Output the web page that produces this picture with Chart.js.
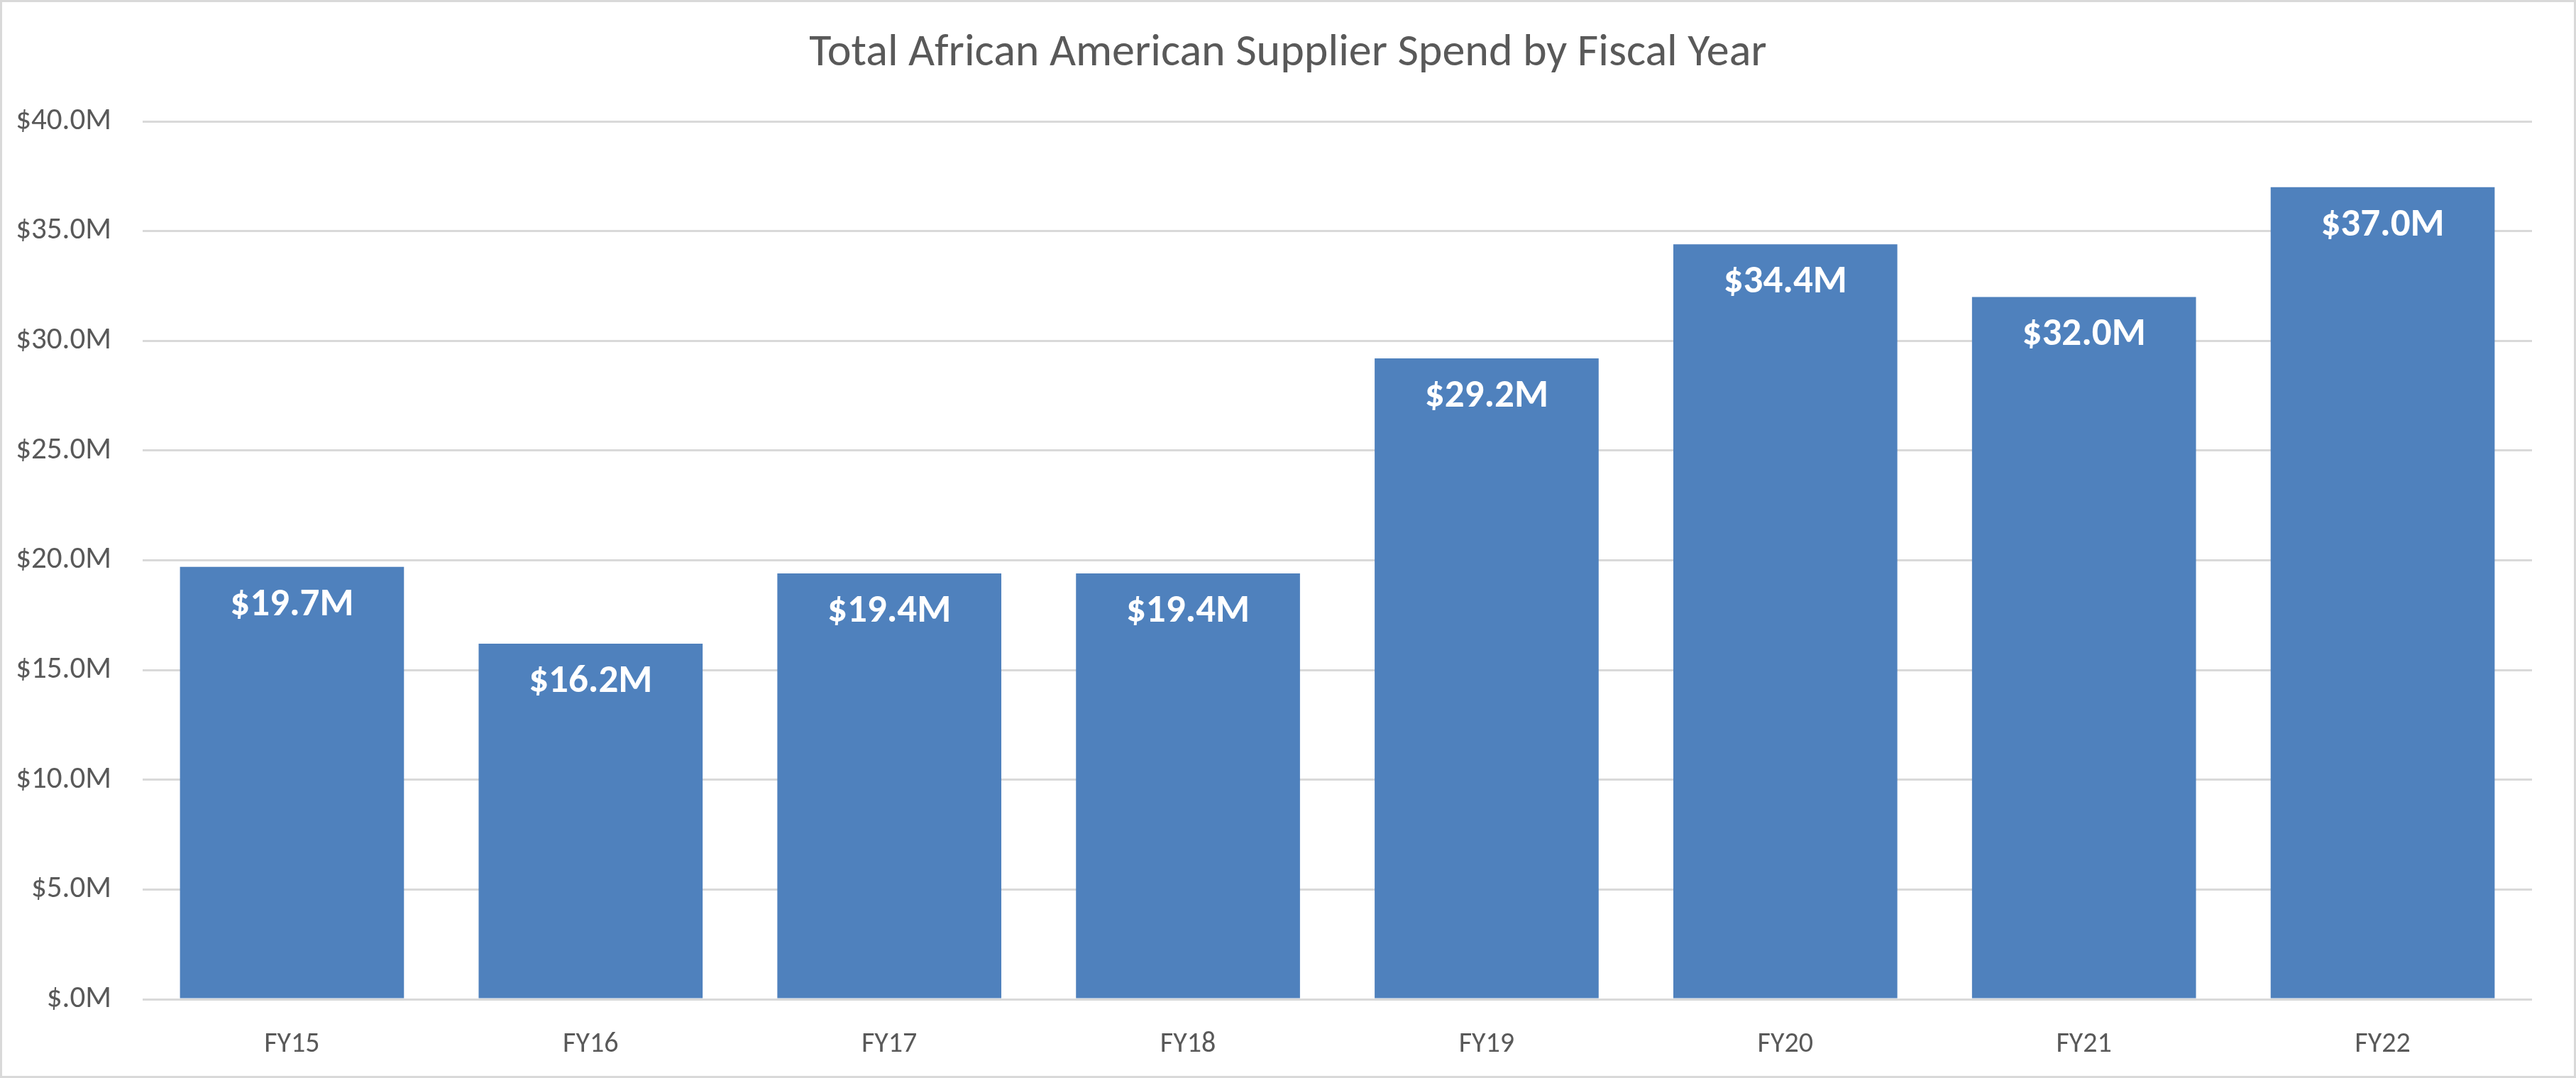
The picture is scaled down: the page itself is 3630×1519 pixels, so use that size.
<!DOCTYPE html>
<html>
<head>
<meta charset="utf-8">
<script src="https://cdn.jsdelivr.net/npm/chart.js@4"></script>
<style>
  html, body { margin: 0; padding: 0; background: #fff; }
  #wrap { width: 3630px; height: 1519px; box-sizing: border-box; border: 3px solid #d9d9d9; position: relative; }
</style>
</head>
<body>
<div id="wrap"><canvas id="barChart"></canvas></div>
<script>
var years = ['FY15', 'FY16', 'FY17', 'FY18', 'FY19', 'FY20', 'FY21', 'FY22'];
var spend = [19.7, 16.2, 19.4, 19.4, 29.2, 34.4, 32.0, 37.0];
var chartTitle = 'Total African American Supplier Spend by Fiscal Year';
var fontFamily = 'Carlito, Lato, sans-serif';

function money(v) {
    var s = Number(v).toFixed(1);
    if (s.charAt(0) === '0') s = s.substring(1);
    return '$' + s + 'M';
}

// white bold labels just inside the top of every bar
var barLabels = {
    id: 'barLabels',
    afterDatasetsDraw: function(chart) {
        var c = chart.ctx;
        var meta = chart.getDatasetMeta(0);
        c.save();
        c.fillStyle = '#ffffff';
        c.font = 'bold 55px ' + fontFamily;
        c.textAlign = 'center';
        c.textBaseline = 'middle';
        meta.data.forEach(function(bar, i) {
            c.fillText(money(spend[i]), bar.x, bar.y + 54);
        });
        c.restore();
    }
};

// title centred on the whole picture, not on the plot
var centerTitle = {
    id: 'centerTitle',
    afterDraw: function(chart) {
        var c = chart.ctx;
        c.save();
        c.fillStyle = '#595959';
        c.font = '64px ' + fontFamily;
        c.textAlign = 'center';
        c.textBaseline = 'middle';
        c.fillText(chartTitle, chart.width / 2, 73);
        c.restore();
    }
};

var ctx = document.getElementById('barChart').getContext('2d');
var chart = new Chart(ctx, {
    type: 'bar',
    data: {
        labels: years,
        datasets: [{
            label: 'Supplier Spend',
            data: spend,
            backgroundColor: '#4f81bd',
            borderWidth: 0,
            barPercentage: 0.75,
            categoryPercentage: 1.0
        }]
    },
    options: {
        responsive: true,
        maintainAspectRatio: false,
        animation: false,
        layout: { padding: { left: 0, right: 59, top: 168, bottom: 0 } },
        plugins: {
            legend: { display: false },
            tooltip: { enabled: false },
            title: { display: false }
        },
        scales: {
            x: {
                grid: { display: false },
                border: { display: false },
                ticks: {
                    color: '#595959',
                    font: { family: fontFamily, size: 40 },
                    padding: 32
                },
                afterFit: function(scale) { scale.height = 108; }
            },
            y: {
                min: 0,
                max: 40,
                grid: { color: '#d9d9d9', lineWidth: 3, drawTicks: false },
                border: { display: false },
                ticks: {
                    stepSize: 5,
                    color: '#595959',
                    font: { family: fontFamily, size: 43 },
                    padding: 44,
                    callback: function(v) { return money(v); }
                },
                afterFit: function(scale) { scale.width = 198; }
            }
        }
    },
    plugins: [barLabels, centerTitle]
});
</script>
</body>
</html>
